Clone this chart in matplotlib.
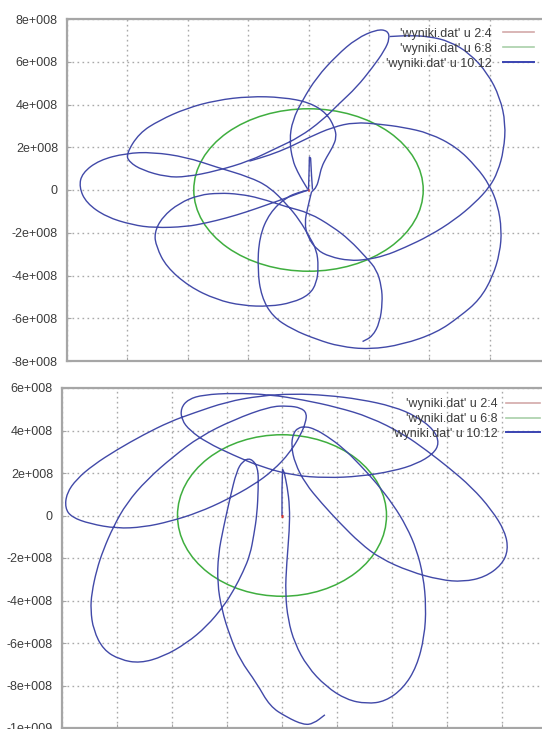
import matplotlib
matplotlib.use("Agg")
import matplotlib.pyplot as plt
from matplotlib.lines import Line2D
from matplotlib.patches import Circle, PathPatch
from matplotlib.path import Path
from matplotlib.ticker import FuncFormatter, MultipleLocator

plt.rcParams["font.family"] = ["Liberation Sans", "DejaVu Sans"]

SCALE = 1e8  # trajectory tables below are in units of 1e8 m

# column 2:4 (Earth) and column 6:8 (Moon orbit radius)
EARTH_X = [-0.03, 0.03]
EARTH_Y = [0.0, 0.0]
MOON_R = 3.8

LABELS = ["'wyniki.dat' u 2:4", "'wyniki.dat' u 6:8", "'wyniki.dat' u 10:12"]

# ---- run 1 (upper plot), columns 10:12, split into traced arcs ----
run1_spike_x = [0, 0.02, 0.03, 0.07, 0.10, 0.13]
run1_spike_y = [0, 0.93, 1.54, 1.49, 0.70, 0.05]

run1_a_x = [0, -0.30, -0.73, -1.39, -2.06, -2.72, -3.38, -4.05, -5.11, -5.84,
            -6.70, -7.36, -7.60, -7.50, -6.93, -6.04, -5.17, -4.05, -3.05, -1.96,
            -1.29, -0.70, -0.30, 0.03, 0.27, 0.33, 0.27, 0.03, -0.53, -1.29,
            -2.19, -3.05, -3.95, -4.71, -5.04, -5.11, -4.84, -4.28, -3.62, -2.95,
            -2.29, -1.63, -0.73, 0.03, 0.80, 1.36, 1.92, 2.26, 2.42, 2.45,
            2.36, 2.12, 1.79]
run1_a_y = [0, -0.14, -0.37, -0.70, -1.03, -1.31, -1.54, -1.72, -1.77, -1.63,
            -1.26, -0.61, 0.14, 0.79, 1.40, 1.72, 1.77, 1.54, 1.07, 0.61,
            0.14, -0.70, -1.40, -2.19, -2.80, -3.59, -4.34, -4.90, -5.27, -5.45,
            -5.41, -5.13, -4.52, -3.59, -2.66, -2.00, -1.26, -0.61, -0.23, -0.14,
            -0.19, -0.37, -0.79, -1.07, -1.72, -2.33, -3.17, -3.73, -4.52, -5.27,
            -6.20, -6.85, -7.09]

run1_b_x = [0.10, 0.27, 0.36, 0.43, 0.60, 0.80, 0.93, 0.86, 0.60, 0.03,
            -0.86, -1.96, -3.05, -4.05, -4.94, -5.61, -6.04, -5.94, -5.51, -4.71,
            -4.05, -3.05, -1.96, -1.06, -0.30, 0.46, 1.03, 1.59, 2.12, 2.52,
            2.69, 2.62, 2.26, 1.59, 0.93, 0.27, -0.20, -0.53, -0.63, -0.53,
            -0.36, -0.17, -0.03]
run1_b_y = [-0.09, 0.14, 0.61, 1.07, 1.54, 2.00, 2.47, 2.94, 3.59, 4.10,
            4.34, 4.38, 4.20, 3.82, 3.26, 2.66, 1.68, 1.31, 0.93, 0.61,
            0.61, 0.89, 1.35, 1.96, 2.47, 3.26, 4.06, 4.80, 5.73, 6.53,
            7.09, 7.46, 7.51, 7.09, 6.29, 5.27, 4.20, 3.26, 2.33, 1.40,
            0.84, 0.37, 0.05]

run1_c_x = [-1.96, -1.29, -0.63, 0.03, 0.80, 1.53, 2.36, 3.12, 4.01, 4.91,
            5.57, 6.00, 6.27, 6.40, 6.34, 6.10, 5.67, 5.01, 4.25, 3.12,
            2.02, 1.03, 0.27, -0.53, -1.19, -1.56, -1.69, -1.63, -1.29, -0.73,
            -0.30, 0]
run1_c_y = [1.35, 1.63, 2.00, 2.47, 2.94, 3.17, 3.08, 2.94, 2.66, 2.00,
            1.07, 0.23, -0.70, -1.86, -2.94, -4.06, -5.13, -5.92, -6.67, -7.23,
            -7.46, -7.32, -6.99, -6.53, -5.92, -4.99, -3.73, -2.19, -1.07, -0.33,
            -0.10, 0]

run1_d_x = [2.69, 3.35, 4.01, 4.68, 5.34, 5.94, 6.34, 6.53, 6.47, 6.27,
            6.00, 5.51, 4.84, 4.01, 3.18, 2.52, 1.92, 1.36, 0.70, 0.27,
            -0.03, -0.13, -0.03, 0.10]
run1_d_y = [7.18, 7.23, 7.18, 6.95, 6.39, 5.45, 4.34, 3.12, 1.86, 0.84,
            0.14, -0.61, -1.40, -2.14, -2.70, -3.08, -3.26, -3.31, -3.12, -2.80,
            -2.19, -1.54, -0.84, -0.09]

# ---- run 2 (lower plot), columns 10:12 ----
run2_spike_x = [0, 0, 0.02, 0.08]
run2_spike_y = [0, 1.21, 2.18, 2.02]

run2_x = [0.08, 0.19, 0.28, 0.27, 0.17, 0.12, 0.22,
          0.46, 0.92, 1.60, 2.35, 3.08, 3.75, 4.41, 4.90, 5.18, 5.24,
          5.14, 4.90, 4.53, 4.05, 3.44, 2.84, 2.23, 1.62, 1.20, 0.87,
          0.58, 0.40, 0.34, 0.47, 0.84, 1.44, 2.11, 2.84, 3.56, 4.65,
          5.75, 6.59, 7.38, 7.99, 8.23, 8.11, 7.62, 6.90, 6.05, 5.26,
          4.41, 3.20, 1.99, 0.78, -0.44, -1.77, -2.86, -3.41, -3.68, -3.65,
          -3.35, -2.74, -1.77, -0.80, 0.41, 1.62, 2.84, 4.05, 4.90, 5.50,
          5.72, 5.53, 4.90, 4.05, 2.84, 1.62, 0.41, -0.80, -2.01, -3.22,
          -4.07, -5.04, -6.01, -6.86, -7.47, -7.83, -7.89, -7.65, -6.98, -6.01,
          -5.04, -4.07, -3.04, -2.01, -1.04, -0.32, 0.29, 0.68, 0.86, 0.90,
          0.68, 0.23, -0.44, -1.77, -2.98, -3.95, -4.92, -5.65, -6.13, -6.50,
          -6.74, -6.92, -6.96, -6.86, -6.50, -5.89, -5.16, -4.32, -3.47, -2.74,
          -2.13, -1.75, -1.41, -1.16, -1.02, -0.91, -0.86, -0.87, -1.14, -1.43,
          -1.65, -1.89, -2.13, -2.32, -2.35, -2.19, -1.89, -1.53, -0.92, -0.44,
          0.17, 0.78, 1.14, 1.56]
run2_y = [2.02, 1.36, 0.42, -0.67, -2.24, -3.65, -4.91,
          -6.01, -7.11, -8.05, -8.67, -8.86, -8.75, -8.13, -7.11, -5.69, -4.28,
          -2.87, -1.62, -0.52, 0.50, 1.52, 2.38, 3.17, 3.75, 4.06, 4.19,
          4.13, 3.84, 3.25, 2.46, 1.52, 0.58, -0.36, -1.30, -2.01, -2.64,
          -3.03, -3.12, -2.90, -2.32, -1.62, -0.75, 0.27, 1.33, 2.27, 3.06,
          3.84, 4.63, 5.10, 5.44, 5.69, 5.76, 5.68, 5.47, 5.05, 4.50,
          4.00, 3.44, 2.84, 2.31, 1.88, 1.77, 1.84, 2.09, 2.43, 2.90,
          3.40, 4.03, 4.66, 5.13, 5.47, 5.66, 5.73, 5.63, 5.35, 4.82,
          4.42, 3.80, 3.09, 2.38, 1.71, 1.05, 0.35, -0.08, -0.39, -0.61,
          -0.55, -0.28, 0.14, 0.74, 1.43, 2.12, 2.96, 3.80, 4.38, 4.82,
          5.07, 5.16, 5.13, 4.50, 3.72, 2.78, 1.68, 0.58, -0.52, -1.62,
          -2.56, -3.65, -4.44, -5.38, -6.32, -6.79, -6.95, -6.64, -6.01, -5.22,
          -4.28, -3.50, -2.64, -1.85, -0.89, 0.05, 1.30, 2.27, 2.71, 2.56,
          2.09, 0.83, -0.58, -1.84, -3.18, -4.44, -5.69, -6.79, -7.89, -8.98,
          -9.49, -9.85, -9.80, -9.38]

# sharp launch spikes stay as straight segments, the rest is drawn rounded
RUN1_SPIKES = [(run1_spike_x, run1_spike_y)]
RUN1_ARCS = [(run1_a_x, run1_a_y), (run1_b_x, run1_b_y),
             (run1_c_x, run1_c_y), (run1_d_x, run1_d_y)]
RUN2_SPIKES = [(run2_spike_x, run2_spike_y)]
RUN2_ARCS = [(run2_x, run2_y)]

RED = "#d03030"
GREEN = "#3fae3f"
BLUE = "#4149a8"
GRID = "#a9a9a9"
AXIS = "#a6a6a6"
TEXT = "#3c3c3c"


def gnuplot_fmt(v, _):
    if abs(v) < 1:
        return "0"
    exp = 0
    m = abs(v)
    while m >= 10:
        m /= 10
        exp += 1
    sign = "-" if v < 0 else ""
    return f"{sign}{m:.0f}e+{exp:03d}"


def rounded_path(xs, ys):
    # quadratic segments through the midpoints, traced points act as controls
    pts = [(x * SCALE, y * SCALE) for x, y in zip(xs, ys)]
    mid = lambda a, b: ((a[0] + b[0]) / 2, (a[1] + b[1]) / 2)
    verts = [pts[0], mid(pts[0], pts[1])]
    codes = [Path.MOVETO, Path.LINETO]
    for i in range(1, len(pts) - 1):
        verts += [pts[i], mid(pts[i], pts[i + 1])]
        codes += [Path.CURVE3, Path.CURVE3]
    verts.append(pts[-1])
    codes.append(Path.LINETO)
    return Path(verts, codes)


def draw_panel(ax, arcs, spikes, xlim, ylim, legend_anchor, handlelength, textpad, spacing):
    ax.set_xlim(*xlim)
    ax.set_ylim(*ylim)
    ax.xaxis.set_major_locator(MultipleLocator(2e8))
    ax.yaxis.set_major_locator(MultipleLocator(2e8))
    ax.yaxis.set_major_formatter(FuncFormatter(gnuplot_fmt))
    ax.tick_params(axis="x", labelbottom=False, direction="in", length=3, color=AXIS)
    ax.tick_params(axis="y", direction="in", length=3, color=AXIS, pad=6.5,
                   labelsize=9, labelcolor=TEXT)
    ax.grid(True, color=GRID, linestyle=(0, (1.2, 2.4)), linewidth=1.0)
    ax.set_axisbelow(True)
    for side in ("left", "bottom", "top", "right"):
        ax.spines[side].set_color(AXIS)
        ax.spines[side].set_linewidth(1.6)

    ax.add_patch(Circle((0, 0), MOON_R * SCALE, fill=False, edgecolor=GREEN,
                        linewidth=1.1, zorder=2))
    for xs, ys in arcs:
        ax.add_patch(PathPatch(rounded_path(xs, ys), fill=False, edgecolor=BLUE,
                               linewidth=1.0, zorder=3))
    for xs, ys in spikes:
        ax.plot([v * SCALE for v in xs], [v * SCALE for v in ys], color=BLUE,
                linewidth=1.0, zorder=3)
    ax.plot([v * SCALE for v in EARTH_X], [v * SCALE for v in EARTH_Y],
            color=RED, linewidth=2.2, solid_capstyle="butt", zorder=4)

    handles = [Line2D([], [], color="#d3a9a9", linewidth=1.2),
               Line2D([], [], color="#a9cfa9", linewidth=1.2),
               Line2D([], [], color="#3a44b2", linewidth=1.4)]
    ax.legend(handles, LABELS, loc="upper right", bbox_to_anchor=legend_anchor,
              bbox_transform=ax.figure.transFigure, frameon=False, markerfirst=False,
              fontsize=9, labelcolor=TEXT, borderpad=0, borderaxespad=0,
              handlelength=handlelength, handletextpad=textpad, labelspacing=spacing)


fig = plt.figure(figsize=(5.42, 7.29), dpi=100)
fig.patch.set_facecolor("white")

# upper plot runs past the right edge of the page
ax1 = fig.add_axes([67 / 542, 1 - 361 / 729, 483 / 542, 342 / 729])
draw_panel(ax1, RUN1_ARCS, RUN1_SPIKES, (-8e8, 8e8), (-8e8, 8e8),
           (534 / 542, 1 - 27.5 / 729), 2.5, 0.9, 0.25)

ax2 = fig.add_axes([62 / 542, 1 - 728 / 729, 495 / 542, 340 / 729])
draw_panel(ax2, RUN2_ARCS, RUN2_SPIKES, (-8e8, 1e9), (-1e9, 6e8),
           (540 / 542, 1 - 398.5 / 729), 2.7, 0.7, 0.2)

fig.savefig("out.png", dpi=100, facecolor="white")
